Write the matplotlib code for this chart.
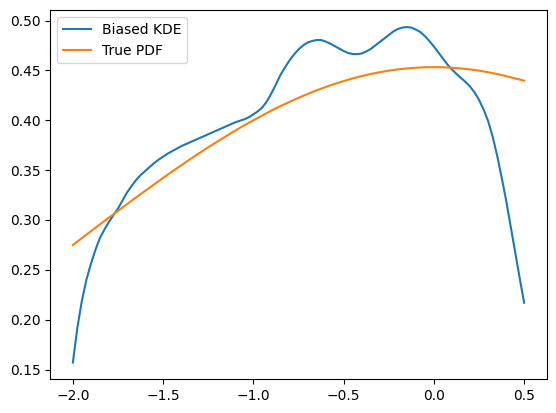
import matplotlib
matplotlib.use("Agg")
import matplotlib.pyplot as plt

# Biased KDE values read at steps of 0.025 from -2.0 to 0.5
kde_x = [round(-2.0 + 0.025 * i, 3) for i in range(101)]
kde_y = [0.157, 0.192, 0.219, 0.240, 0.256, 0.270, 0.282, 0.2905, 0.298, 0.305,
         0.3115, 0.3195, 0.3275, 0.334, 0.340, 0.345, 0.349, 0.353, 0.357, 0.3605,
         0.3635, 0.3665, 0.369, 0.3715, 0.374, 0.376, 0.378, 0.380, 0.382, 0.384,
         0.386, 0.388, 0.390, 0.392, 0.394, 0.396, 0.398, 0.3995, 0.401, 0.403,
         0.406, 0.409, 0.413, 0.419, 0.427, 0.436, 0.4455, 0.453, 0.460, 0.466,
         0.471, 0.475, 0.478, 0.4795, 0.4805, 0.4805, 0.479, 0.477, 0.4745, 0.472,
         0.4695, 0.4675, 0.4665, 0.4663, 0.467, 0.469, 0.4715, 0.475, 0.4785, 0.482,
         0.4855, 0.489, 0.4915, 0.493, 0.4935, 0.493, 0.491, 0.4885, 0.4845, 0.4795,
         0.474, 0.468, 0.462, 0.456, 0.451, 0.4465, 0.4425, 0.4385, 0.434, 0.428,
         0.4205, 0.411, 0.3995, 0.384, 0.365, 0.343, 0.320, 0.294, 0.268, 0.242,
         0.217]

# True PDF values read at steps of 0.05 from -2.0 to 0.5
pdf_x = [round(-2.0 + 0.05 * i, 2) for i in range(51)]
pdf_y = [0.2749, 0.2818, 0.2887, 0.2956, 0.3024, 0.3091, 0.3159, 0.3226, 0.3291, 0.3357,
         0.3422, 0.3486, 0.3548, 0.3610, 0.3670, 0.3729, 0.3786, 0.3842, 0.3897, 0.3950,
         0.4000, 0.4049, 0.4097, 0.4142, 0.4184, 0.4225, 0.4264, 0.4300, 0.4334, 0.4365,
         0.4393, 0.4420, 0.4443, 0.4464, 0.4482, 0.4498, 0.4510, 0.4520, 0.4527, 0.4532,
         0.4533, 0.4532, 0.4527, 0.4520, 0.4510, 0.4498, 0.4482, 0.4464, 0.4443, 0.4420,
         0.4398]

fig = plt.figure(figsize=(5.56, 4.13), dpi=100)
ax = fig.add_axes([50.3 / 556, 1 - 379.3 / 413, 496.4 / 556, 369.0 / 413])
ax.plot(kde_x, kde_y, label="Biased KDE")
ax.plot(pdf_x, pdf_y, label="True PDF")
ax.legend(loc="upper left")
fig.savefig("out.png", dpi=100)
